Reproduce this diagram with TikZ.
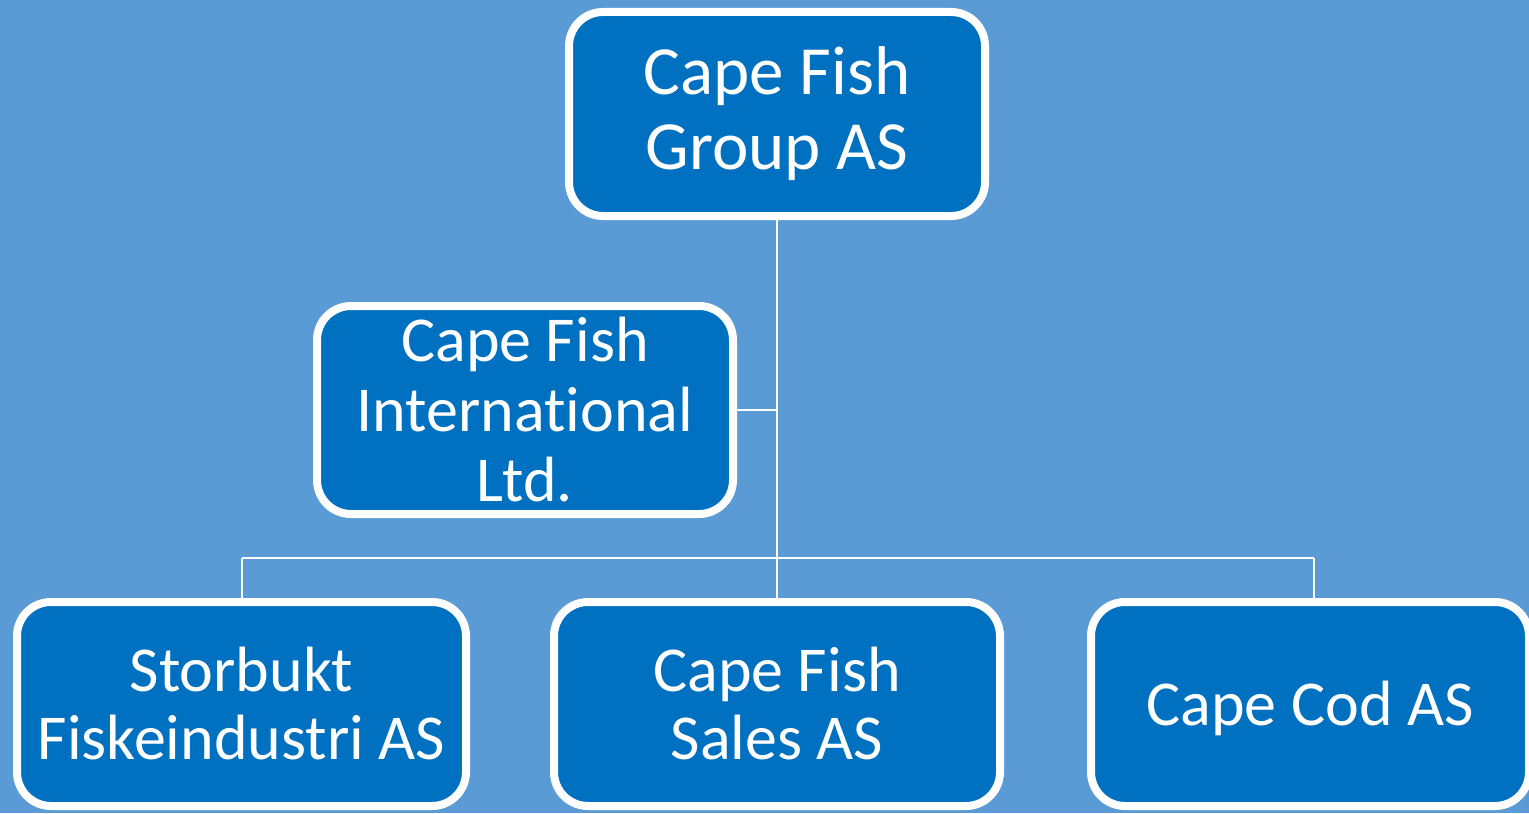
\documentclass[tikz,border=0pt]{standalone}
\usepackage{fontspec}
\setmainfont[Ligatures=NoCommon]{Carlito}
\definecolor{bgblue}{HTML}{5B9BD5}
\definecolor{boxblue}{HTML}{0070C0}
\begin{document}
\begin{tikzpicture}[x=0.5pt,y=-0.5pt,
  orgbox/.style={draw=white, line width=4pt, fill=boxblue, rounded corners=17pt,
    text=white, align=center, inner sep=0pt, anchor=center},
  conn/.style={draw=white, line width=1pt}]
\fill[bgblue] (0,0) rectangle (1529,813);
\useasboundingbox (0,0) rectangle (1529,813);
\coordinate (hub) at (778,410);
\coordinate (barL) at (242,558);
\coordinate (barR) at (1314,558);
\node[orgbox, minimum width=208pt, minimum height=102pt,
  font=\fontsize{34.5}{37.5}\selectfont] (top) at (777,114) {Cape Fish\\Group AS};
\node[orgbox, minimum width=208pt, minimum height=104pt,
  font=\fontsize{32}{35}\selectfont] (intl) at (525,410) {Cape Fish\\International\\Ltd.};
\node[orgbox, minimum width=224.5pt, minimum height=102pt,
  font=\fontsize{32}{34}\selectfont] (stor) at (241.5,704) {Storbukt\\Fiskeindustri AS};
\node[orgbox, minimum width=223pt, minimum height=102pt,
  font=\fontsize{32}{34}\selectfont] (sales) at (777,704) {Cape Fish\\Sales AS};
\node[orgbox, minimum width=219pt, minimum height=102pt, text height=23pt, text depth=2pt,
  font=\fontsize{32}{34}\selectfont] (cod) at (1310,704) {Cape Cod AS};
\draw[conn] (top.south) -- (sales.north);
\draw[conn] (intl.east) -- (hub);
\draw[conn] (barL) -- (barR);
\draw[conn] (barL) -- (stor.north -| barL);
\draw[conn] (barR) -- (cod.north -| barR);
\end{tikzpicture}
\end{document}
